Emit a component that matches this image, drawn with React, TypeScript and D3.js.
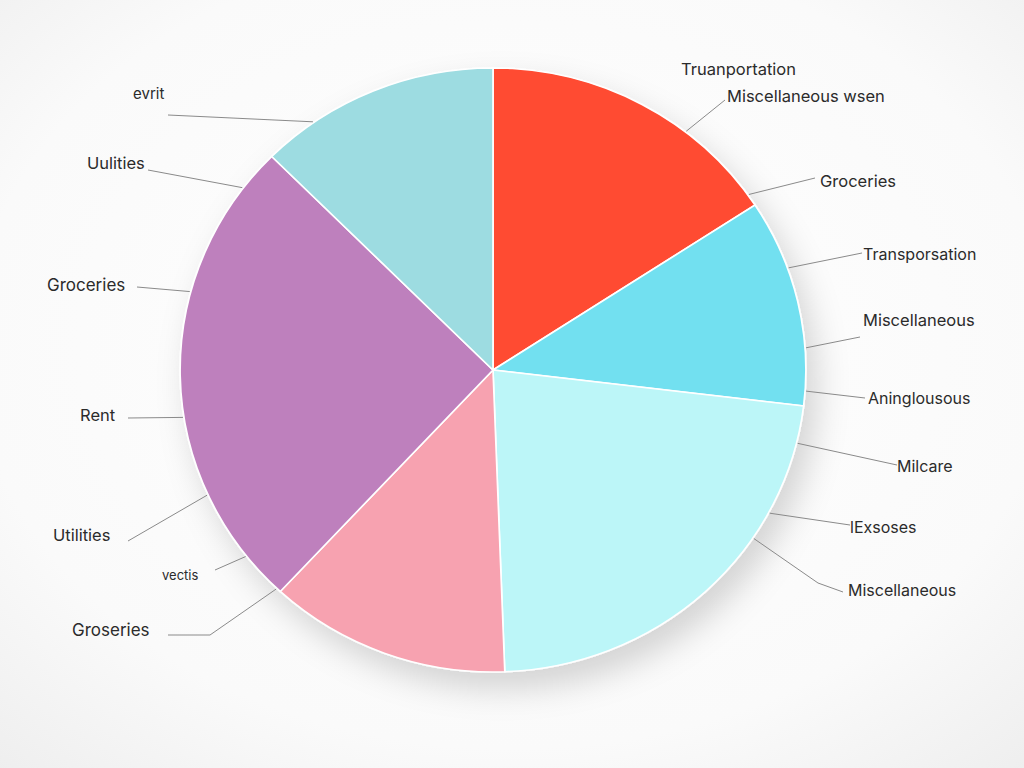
import * as d3 from 'd3';

// slice data (clockwise from 12 o'clock)
const categories = ['Transportation', 'Groceries', 'Miscellaneous', 'Expenses', 'Rent', 'Utilities'];
const shares = [15.8, 11.1, 22.5, 12.5, 25.6, 12.5];
const colors = ['#FF4B33', '#72E0F0', '#BCF6F8', '#F7A2B0', '#BE80BD', '#9DDCE1'];

// callout labels as they appear around the pie
const labelTexts = [
  'evrit', 'Uulities', 'Groceries', 'Rent', 'Utilities', 'vectis', 'Groseries',
  'Miscellaneous wsen', 'Groceries', 'Transporsation', 'Miscellaneous',
  'Aninglousous', 'Milcare', 'lExsoses', 'Miscellaneous',
];
// angle (deg) where each leader line touches the pie
const labelAngles = [325, 307, 285, 261, 245.6, 232, 223.7, 38, 54.6, 70.3, 85.8, 94, 104, 118.2, 123.8];

const W = 1024;
const H = 768;
const cx = 493;
const cy = 370;
const R = 302;
const sx = 1.036;

// label layout: line end, optional elbow, text position
const labelLayout = [
  { end: [168, 115], elbow: null, tx: 133, ty: 99, anchor: 'start', size: 15 },
  { end: [148, 170], elbow: null, tx: 87, ty: 169, anchor: 'start', size: 16.5 },
  { end: [137, 287], elbow: null, tx: 47, ty: 291, anchor: 'start', size: 17 },
  { end: [128, 418], elbow: null, tx: 80, ty: 421, anchor: 'start', size: 16.5 },
  { end: [128, 541], elbow: null, tx: 53, ty: 541, anchor: 'start', size: 16.5 },
  { end: [215, 570], elbow: null, tx: 162, ty: 580, anchor: 'start', size: 13 },
  { end: [168, 635], elbow: [210, 635], tx: 72, ty: 636, anchor: 'start', size: 17 },
  { end: [725, 100], elbow: null, tx: 727, ty: 102, anchor: 'start', size: 16.5 },
  { end: [815, 178], elbow: null, tx: 820, ty: 187, anchor: 'start', size: 16.5 },
  { end: [862, 253], elbow: null, tx: 863, ty: 260, anchor: 'start', size: 16 },
  { end: [860, 337], elbow: null, tx: 863, ty: 326, anchor: 'start', size: 16.5 },
  { end: [865, 398], elbow: null, tx: 868, ty: 404, anchor: 'start', size: 16 },
  { end: [897, 465], elbow: null, tx: 897, ty: 472, anchor: 'start', size: 16 },
  { end: [850, 525], elbow: null, tx: 850, ty: 533, anchor: 'start', size: 16 },
  { end: [843, 592], elbow: [818, 583], tx: 848, ty: 596, anchor: 'start', size: 16 },
];

export default function App() {
  const pie = d3.pie<number>().sort(null).value(d => d);
  const arcs = pie(shares);
  const arc = d3.arc<d3.PieArcDatum<number>>().innerRadius(0).outerRadius(R);

  const edgePoint = (deg: number) => {
    const a = (deg * Math.PI) / 180;
    return [cx + sx * (R + 1) * Math.sin(a), cy - (R + 1) * Math.cos(a)];
  };

  return (
    <svg width={W} height={H} style={{ position: 'absolute', left: 0, top: 0 }}>
      <defs>
        <radialGradient id="bg" cx="50%" cy="45%" r="75%">
          <stop offset="0%" stopColor="#ffffff" />
          <stop offset="70%" stopColor="#fafafa" />
          <stop offset="100%" stopColor="#eeeeee" />
        </radialGradient>
        <filter id="shadow" x="-30%" y="-30%" width="160%" height="160%">
          <feDropShadow dx="10" dy="16" stdDeviation="16" floodColor="#000" floodOpacity="0.16" />
        </filter>
      </defs>
      <rect width={W} height={H} fill="url(#bg)" />

      <g transform={`translate(${cx},${cy}) scale(${sx},1)`} filter="url(#shadow)">
        {arcs.map((d, i) => (
          <path key={categories[i]} d={arc(d) || ''} fill={colors[i]} stroke="#ffffff" strokeWidth={1.6} />
        ))}
      </g>

      <g>
        {labelTexts.map((t, i) => {
          const L = labelLayout[i];
          const s = edgePoint(labelAngles[i]);
          const pts = [s, ...(L.elbow ? [L.elbow] : []), L.end];
          return (
            <g key={i}>
              <polyline
                points={pts.map(p => p.join(',')).join(' ')}
                fill="none"
                stroke="#8a8a8a"
                strokeWidth={1}
              />
              <text
                x={L.tx}
                y={L.ty}
                textAnchor={L.anchor}
                fontFamily="Inter, 'Open Sans', sans-serif"
                fontSize={L.size}
                fill="#2b2b2b"
              >
                {t}
              </text>
            </g>
          );
        })}
        <text x={681} y={75} fontFamily="Inter, 'Open Sans', sans-serif" fontSize={16.5} fill="#2b2b2b">
          Truanportation
        </text>
      </g>
    </svg>
  );
}
